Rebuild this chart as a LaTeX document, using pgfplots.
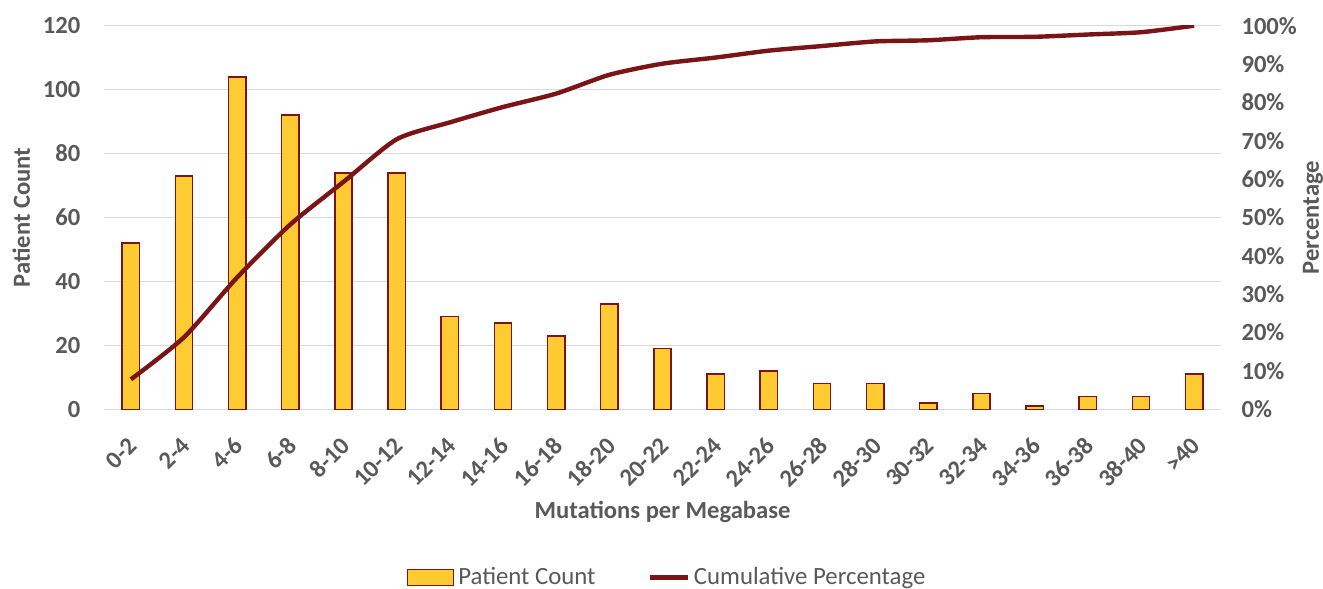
\documentclass[border=0pt]{standalone}
\usepackage{fontspec}
\setmainfont{Carlito}
\usepackage{pgfplots}
\pgfplotsset{compat=1.18}
\definecolor{gold}{HTML}{FFCB32}
\definecolor{maroon}{HTML}{7B1416}
\definecolor{txtgray}{HTML}{595959}
\definecolor{gridgray}{HTML}{D9D9D9}
\newcommand{\fs}{\fontsize{12.3}{14}\selectfont}
\begin{document}
\begin{tikzpicture}
\pgfplotsset{
 common/.style={
  width=558.2pt, height=191.8pt, scale only axis,
  xmin=-0.5, xmax=20.5, ymin=0,
  axis line style={draw=none},
  major tick length=0pt,
  /pgf/number format/assume math mode=true,
  tick label style={font=\fs\bfseries, text=txtgray},
  label style={font=\fs\bfseries, text=txtgray},
 }
}
\begin{axis}[common,
  ymax=120, ytick={0,20,...,120},
  ymajorgrids, grid style={draw=gridgray, line width=0.75pt},
  xtick={0,...,20},
  xticklabels={0-2,2-4,4-6,6-8,8-10,10-12,12-14,14-16,16-18,18-20,20-22,22-24,24-26,26-28,28-30,30-32,32-34,34-36,36-38,38-40,>40},
  xticklabel style={xshift=1pt, yshift=-16pt, rotate=45, anchor=east, inner sep=0pt},
  yticklabel style={inner sep=0pt, xshift=-11.8pt},
  xlabel={Mutations per Megabase},
  xlabel style={at={(axis description cs:0.5,-0.268)}, anchor=center},
  ylabel={Patient Count},
  ylabel style={at={(axis description cs:-0.0744,0.5)}, anchor=center},
]
\addplot[ybar, bar width=8.65pt, fill=gold, draw=maroon, line width=0.75pt] coordinates {
(0,52) (1,73) (2,104) (3,92) (4,74) (5,74) (6,29) (7,27) (8,23) (9,33) (10,19)
(11,11) (12,12) (13,8) (14,8) (15,2) (16,5) (17,1) (18,4) (19,4) (20,11)};
\end{axis}
\begin{axis}[common,
  ymax=100, ytick={0,10,...,100},
  axis y line*=right, axis x line=none,
  yticklabel={\pgfmathprintnumber{\tick}\%},
  yticklabel style={inner sep=0pt, xshift=10.2pt, anchor=west},
  ylabel={Percentage},
  ylabel style={at={(axis description cs:1.0827,0.5)}, anchor=center},
  legend style={at={(axis description cs:0.505,-0.438)}, anchor=center, draw=none, fill=none,
    legend columns=2, font=\fontsize{12.4}{14}\selectfont, text=txtgray,
    /tikz/every even column/.append style={column sep=24pt}},
  legend cell align=left,
]
\addlegendimage{legend image code/.code={\draw[fill=gold, draw=maroon, line width=0.75pt] (0pt,-4pt) rectangle (23pt,4pt);}}
\addlegendentry{Patient Count}
\addplot[maroon, line width=2.2pt, smooth, tension=0.4, line join=round,
  legend image code/.code={\draw[maroon, line width=2.2pt] (0pt,0pt) -- (19pt,0pt);}] coordinates {
(0,7.8) (1,18.8) (2,34.4) (3,48.2) (4,59.3) (5,70.4) (6,74.8) (7,78.8) (8,82.3) (9,87.2) (10,90.1)
(11,91.7) (12,93.5) (13,94.7) (14,95.9) (15,96.2) (16,97.0) (17,97.1) (18,97.7) (19,98.3) (20,100)};
\addlegendentry{Cumulative Percentage}
\coordinate (BBsw) at (axis description cs:-0.09343,-0.46584);
\coordinate (BBne) at (axis description cs:1.0916,1.0670);
\end{axis}
\pgfresetboundingbox
\path[use as bounding box] (BBsw) rectangle (BBne);
\end{tikzpicture}
\end{document}
